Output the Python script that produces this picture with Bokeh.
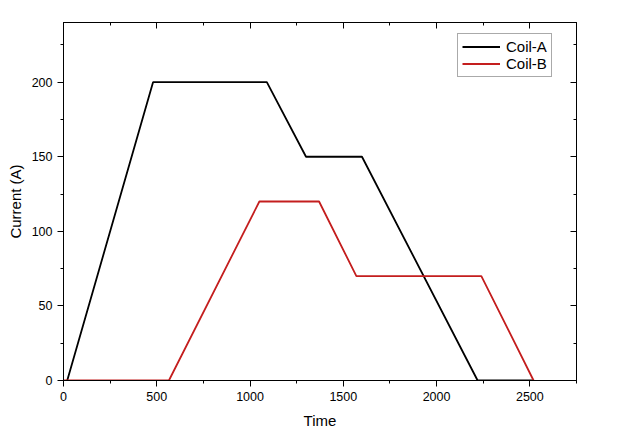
from bokeh.plotting import figure
from bokeh.models import Range1d, LinearAxis, SingleIntervalTicker, Legend, LegendItem
from bokeh.embed import file_html
from bokeh.resources import INLINE

# data
coil_a_t = [20, 480, 1090, 1300, 1600, 2220, 2520]
coil_a_i = [0, 200, 200, 150, 150, 0, 0]
coil_b_t = [0, 565, 1050, 1370, 1570, 2240, 2520]
coil_b_i = [0, 0, 120, 120, 70, 70, 0]
series_names = ["Coil-A", "Coil-B"]

FONT = "Liberation Sans"

p = figure(width=640, height=447, x_range=Range1d(0, 2750), y_range=Range1d(0, 240),
           output_backend="svg", toolbar_location=None,
           min_border_left=63, min_border_right=64, min_border_top=22, min_border_bottom=67,
           x_axis_label="Time", y_axis_label="Current (A)")
p.xgrid.visible = False
p.ygrid.visible = False
p.outline_line_color = "black"
p.outline_line_width = 1
p.background_fill_color = "white"
p.border_fill_color = "white"

p.xaxis.ticker = SingleIntervalTicker(interval=500, num_minor_ticks=2)
p.yaxis.ticker = SingleIntervalTicker(interval=50, num_minor_ticks=2)

for ax in [p.xaxis[0], p.yaxis[0]]:
    ax.axis_line_color = "black"
    ax.major_tick_line_color = "black"
    ax.minor_tick_line_color = "black"
    ax.major_tick_in = 0
    ax.major_tick_out = 6
    ax.minor_tick_in = 0
    ax.minor_tick_out = 3
    ax.major_label_text_font = FONT
    ax.major_label_text_font_size = "12.5px"
    ax.major_label_text_color = "black"
    ax.major_label_standoff = 5
    ax.axis_label_text_font = FONT
    ax.axis_label_text_font_size = "15px"
    ax.axis_label_text_font_style = "normal"
    ax.axis_label_text_color = "black"
p.xaxis.axis_label_standoff = 8
p.yaxis.axis_label_standoff = 5

top = LinearAxis(ticker=SingleIntervalTicker(interval=500, num_minor_ticks=2))
right = LinearAxis(ticker=SingleIntervalTicker(interval=50, num_minor_ticks=2))
for ax in [top, right]:
    ax.axis_line_color = "black"
    ax.major_tick_line_color = "black"
    ax.minor_tick_line_color = "black"
    ax.major_tick_in = 6
    ax.major_tick_out = 0
    ax.minor_tick_in = 3
    ax.minor_tick_out = 0
    ax.major_label_text_font_size = "0px"
    ax.major_label_text_alpha = 0
    ax.major_label_standoff = 0
p.add_layout(top, "above")
p.add_layout(right, "right")

la = p.line(coil_a_t, coil_a_i, line_color="black", line_width=1.8)
lb = p.line(coil_b_t, coil_b_i, line_color="#c41e1e", line_width=1.8)

legend = Legend(items=[LegendItem(label=series_names[0], renderers=[la]),
                       LegendItem(label=series_names[1], renderers=[lb])],
                location=(394, 303), margin=0, padding=4, spacing=0,
                glyph_width=38, glyph_height=15, label_height=15, label_standoff=6,
                label_text_font=FONT, label_text_font_size="15px", label_text_color="black",
                border_line_color="#555555", border_line_width=1,
                background_fill_color="white", background_fill_alpha=1)
p.add_layout(legend, "center")

open("out.html", "w").write(file_html(p, INLINE))
